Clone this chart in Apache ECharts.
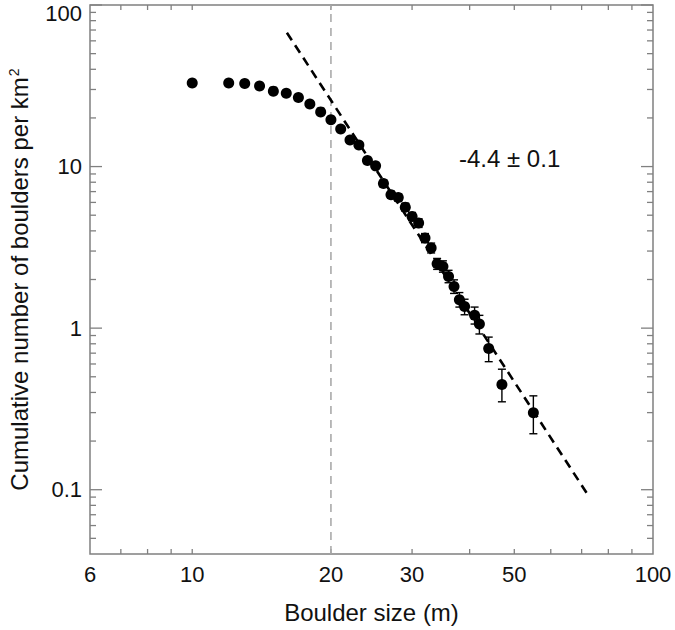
<!DOCTYPE html>
<html>
<head>
<meta charset="utf-8">
<script src="https://cdn.jsdelivr.net/npm/echarts@6/dist/echarts.min.js"></script>
<style>html,body{margin:0;padding:0;background:#fff;}#c{width:675px;height:630px;}</style>
</head>
<body>
<div id="c"></div>
<script>
// ---- data ----
const sizes = [10,12,13,14,15,16,17,18,19,20,21,22,23,24,25,26,27,28,29,30,31,32,33,34,35,36,37,38,39,41,42,44,47,55];
const density = [32.9,32.9,32.7,31.5,29.3,28.4,26.8,24.4,21.8,19.5,17.1,14.6,13.6,10.9,10.1,7.86,6.69,6.44,5.61,4.91,4.47,3.61,3.13,2.50,2.41,2.09,1.81,1.50,1.36,1.20,1.06,0.748,0.448,0.299];
const errLow = [null,null,null,null,null,null,null,null,null,null,null,null,null,null,null,7.5,6.36,6.12,5.31,4.63,4.20,3.38,2.92,2.31,2.22,1.91,1.64,1.35,1.21,1.06,0.92,0.62,0.35,0.222];
const errHigh = [null,null,null,null,null,null,null,null,null,null,null,null,null,null,null,8.25,7.03,6.77,5.92,5.20,4.75,3.85,3.36,2.70,2.61,2.28,1.99,1.66,1.51,1.35,1.20,0.88,0.557,0.381];
const fitX = [16.05, 72.9];
const fitY = [67.4, 0.0893];
const cutoffSize = 20;
const slopeText = '-4.4 ± 0.1';
const xLabels = [6,10,20,30,50,100];
const xTicks = [7,8,9,10,20,30,40,50,60,70,80,90];
const yLabels = ['0.1','1','10','100'];
const yMajor = [0.1,1,10,100];
const yMinor = [0.05,0.06,0.07,0.08,0.09,0.2,0.3,0.4,0.5,0.6,0.7,0.8,0.9,2,3,4,5,6,7,8,9,20,30,40,50,60,70,80,90];
const xMin = 6, xMax = 100, yMin = 0.04, yMax = 100;

const FONT = 'Liberation Sans, Arial, Helvetica, sans-serif';
const AX = '#808080';
const TXT = '#111';

const chart = echarts.init(document.getElementById('c'), null, {renderer: 'svg'});

function xTickItem(params, api) {
  const v = api.value(0);
  const b = api.coord([v, yMin]);
  const t = api.coord([v, yMax]);
  return {type: 'group', children: [
    {type: 'line', shape: {x1: b[0], y1: b[1], x2: b[0], y2: b[1] - 5}, style: {stroke: AX, lineWidth: 1.3}},
    {type: 'line', shape: {x1: t[0], y1: t[1], x2: t[0], y2: t[1] + 5}, style: {stroke: AX, lineWidth: 1.3}}
  ]};
}
function yTickMaker(len) {
  return function (params, api) {
    const v = api.value(1);
    const l = api.coord([xMin, v]);
    const r = api.coord([xMax, v]);
    return {type: 'group', children: [
      {type: 'line', shape: {x1: l[0], y1: l[1], x2: l[0] + len, y2: l[1]}, style: {stroke: AX, lineWidth: 1.3}},
      {type: 'line', shape: {x1: r[0], y1: r[1], x2: r[0] - len, y2: r[1]}, style: {stroke: AX, lineWidth: 1.3}}
    ]};
  };
}
function xLabelItem(params, api) {
  const v = api.value(0);
  const p = api.coord([v, yMin]);
  return {type: 'text', x: p[0], y: p[1] + 9, style: {text: String(xLabels[params.dataIndex]), fill: TXT, fontSize: 22, fontFamily: FONT, align: 'center', verticalAlign: 'top'}};
}
function yLabelItem(params, api) {
  const v = api.value(1);
  const p = api.coord([xMin, v]);
  const shift = (v >= yMax) ? 8 : 0;
  return {type: 'text', x: p[0] - 8, y: p[1] + shift, style: {text: yLabels[params.dataIndex], fill: TXT, fontSize: 22, fontFamily: FONT, align: 'right', verticalAlign: 'middle'}};
}
function errItem(params, api) {
  const x = api.value(0);
  const lo = api.coord([x, api.value(1)]);
  const hi = api.coord([x, api.value(2)]);
  const w = 4;
  const st = {stroke: '#000', lineWidth: 1.4};
  return {type: 'group', children: [
    {type: 'line', shape: {x1: lo[0], y1: lo[1], x2: hi[0], y2: hi[1]}, style: st},
    {type: 'line', shape: {x1: lo[0] - w, y1: lo[1], x2: lo[0] + w, y2: lo[1]}, style: st},
    {type: 'line', shape: {x1: hi[0] - w, y1: hi[1], x2: hi[0] + w, y2: hi[1]}, style: st}
  ]};
}

const errData = [];
sizes.forEach((s, i) => { if (errLow[i] != null) errData.push([s, errLow[i], errHigh[i]]); });

const option = {
  animation: false,
  backgroundColor: '#fff',
  grid: {left: 90, top: 5, width: 563, height: 549, show: true, borderColor: AX, borderWidth: 1.5, backgroundColor: 'transparent',
    containLabel: false, outerBoundsMode: 'none'},
  xAxis: {
    type: 'log', logBase: 10, min: xMin, max: xMax,
    name: 'Boulder size (m)', nameLocation: 'middle', nameGap: 46,
    nameTextStyle: {fontSize: 24, fontFamily: FONT, color: TXT},
    axisLine: {show: false}, axisTick: {show: false}, axisLabel: {show: false}, splitLine: {show: false}
  },
  yAxis: {
    type: 'log', logBase: 10, min: yMin, max: yMax,
    name: '{a|Cumulative number of boulders per km}{s|2}', nameLocation: 'middle', nameGap: 59,
    nameTextStyle: {fontSize: 24, fontFamily: FONT, color: TXT,
      rich: {a: {fontSize: 24, fontFamily: FONT, color: TXT}, s: {fontSize: 14, fontFamily: FONT, color: TXT, verticalAlign: 'top', padding: [0, 0, 10, 1]}}},
    axisLine: {show: false}, axisTick: {show: false}, axisLabel: {show: false}, splitLine: {show: false}
  },
  graphic: [{
    type: 'text', left: 459, top: 146,
    style: {text: slopeText, fontSize: 24, fontFamily: FONT, fill: TXT}
  }],
  series: [
    {type: 'custom', silent: true, renderItem: xTickItem, data: xTicks.map(v => [v, yMin]), z: 1},
    {type: 'custom', silent: true, renderItem: yTickMaker(12), data: yMajor.map(v => [xMin, v]), z: 1},
    {type: 'custom', silent: true, renderItem: yTickMaker(6), data: yMinor.map(v => [xMin, v]), z: 1},
    {type: 'custom', silent: true, renderItem: xLabelItem, data: xLabels.map(v => [v, yMin]), z: 1},
    {type: 'custom', silent: true, renderItem: yLabelItem, data: yMajor.map(v => [xMin, v]), z: 1},
    {type: 'line', silent: true, data: [[cutoffSize, yMin], [cutoffSize, yMax]], symbol: 'none',
      lineStyle: {color: '#aaaaaa', width: 1.6, type: [8, 6]}, z: 2},
    {type: 'line', silent: true, data: fitX.map((x, i) => [x, fitY[i]]), symbol: 'none',
      lineStyle: {color: '#000', width: 2.6, type: [9, 6]}, z: 3},
    {type: 'scatter', silent: true, data: sizes.map((x, i) => [x, density[i]]), symbol: 'circle', symbolSize: 11,
      itemStyle: {color: '#000', opacity: 1}, z: 4},
    {type: 'custom', silent: true, renderItem: errItem, data: errData, z: 5}
  ]
};
chart.setOption(option);
</script>
</body>
</html>
